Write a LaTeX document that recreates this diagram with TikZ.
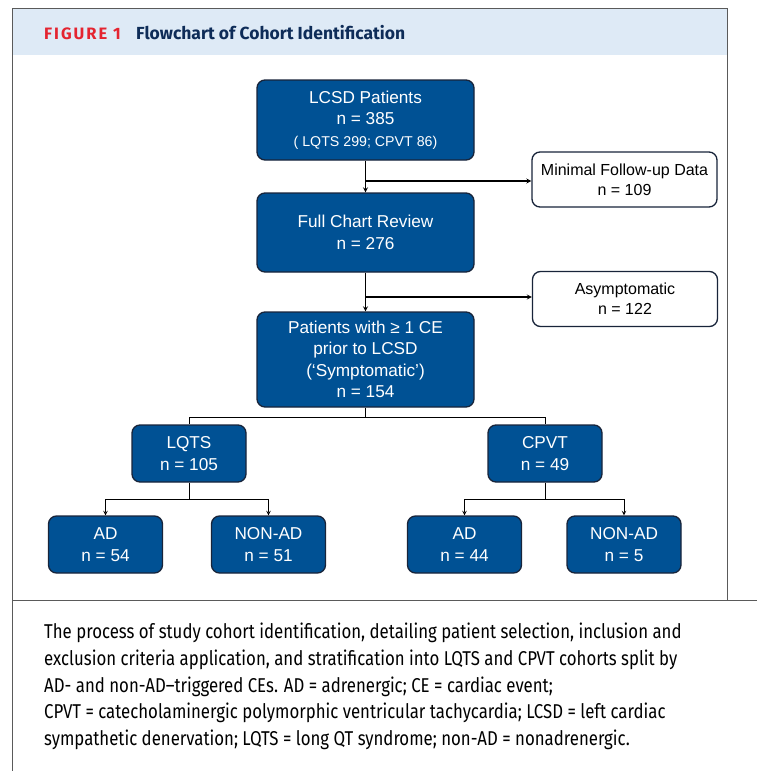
\documentclass[tikz,border=0pt]{standalone}
\usepackage{fontspec}
\setmainfont{Liberation Sans}
\newfontfamily\headfont{Fira Sans}
\newfontfamily\capfont[FakeStretch=0.84]{Fira Sans}
\usepackage{xcolor}
\usepackage{tikz}
\usetikzlibrary{positioning}

\definecolor{boxblue}{RGB}{0,81,148}
\definecolor{boxedge}{RGB}{24,36,58}
\definecolor{headbg}{RGB}{222,234,246}
\definecolor{figred}{RGB}{228,36,48}
\definecolor{titlenavy}{RGB}{14,44,88}
\definecolor{framegrey}{RGB}{90,90,90}

\begin{document}
\begin{tikzpicture}[>=stealth, x=1pt, y=-1pt, on grid,
    bluebox/.style={draw=boxedge, line width=1.3pt, fill=boxblue, rounded corners=8pt,
      text=white, align=center, font=\fontsize{17.2}{21.5}\selectfont,
      minimum width=217pt, inner sep=0pt},
    smallbox/.style={bluebox, minimum width=114pt, minimum height=57pt},
    greybox/.style={draw=boxedge, line width=1.3pt, fill=white, rounded corners=8pt,
      text=black, align=center, font=\fontsize{16}{20}\selectfont,
      minimum width=185pt, minimum height=55pt, inner sep=0pt},
    capline/.style={anchor=base west, inner sep=0pt, font=\capfont\fontsize{20}{24}\selectfont}]
  \useasboundingbox (0,0) rectangle (757,771);

  % frame and heading
  \fill[headbg] (12,8) rectangle (727,55);
  \draw[framegrey, line width=1pt] (12,771) -- (12,8) -- (727,8) -- (727,600);
  \draw[framegrey, line width=1pt] (12,600) -- (757,600);
  \node[anchor=base west, inner sep=0pt, text=figred,
    font=\headfont\addfontfeatures{LetterSpace=12}\bfseries\fontsize{16.5}{18}\selectfont]
    (fignum) at (44,39) {FIGURE 1};
  \node[anchor=base west, inner sep=0pt, text=titlenavy,
    font=\headfont\bfseries\fontsize{17.5}{20}\selectfont]
    (figtitle) at (136,39) {Flowchart of Cohort Identification};

  % main column
  \node[bluebox, minimum height=80pt] (lcsd) at (365.5,120)
    {LCSD Patients\\n = 385\\{\fontsize{14.2}{20}\selectfont( LQTS 299; CPVT 86)}};
  \node[bluebox, minimum height=79pt, below=112.5pt of lcsd] (chart)
    {Full Chart Review\\n = 276};
  \node[bluebox, minimum height=95pt, below=127pt of chart] (sympt)
    {Patients with ≥ 1 CE\\prior to LCSD\\(`Symptomatic')\\n = 154};

  % excluded
  \node[greybox] (minfu) at (624.5,179.5) {Minimal Follow-up Data\\n = 109};
  \node[greybox] (asympt) at (625,299) {Asymptomatic\\n = 122};

  % cohorts
  \node[smallbox] (lqts) at (189,453.5) {LQTS\\n = 105};
  \node[smallbox] (cpvt) at (545,453.5) {CPVT\\n = 49};
  \node[smallbox, below left=91pt and 83.5pt of lqts] (lqtsad) {AD\\n = 54};
  \node[smallbox, below right=91pt and 79.5pt of lqts] (lqtsnon) {NON-AD\\n = 51};
  \node[smallbox, below left=91pt and 80.5pt of cpvt] (cpvtad) {AD\\n = 44};
  \node[smallbox, below right=91pt and 79pt of cpvt] (cpvtnon) {NON-AD\\n = 5};

  % connectors
  \coordinate (split1) at (lcsd.south |- 0,181);
  \coordinate (split2) at (chart.south |- 0,297);
  \draw[->, line width=1.2pt] (lcsd) -- (chart);
  \draw[->, line width=1.2pt] (split1) -- (split1 -| minfu.west);
  \draw[->, line width=1.2pt] (chart) -- (sympt);
  \draw[->, line width=1.2pt] (split2) -- (split2 -| asympt.west);

  \draw[line width=1pt] (sympt.south) -- ++(0,10) coordinate (split3);
  \draw[line width=1pt] (split3) -| (lqts.north);
  \draw[line width=1pt] (split3) -| (cpvt.north);

  \draw[line width=1pt] (lqts.south) -- ++(0,16.5) coordinate (split4);
  \draw[->, line width=1pt] (split4) -| (lqtsad.north);
  \draw[->, line width=1pt] (split4) -| (lqtsnon.north);
  \draw[line width=1pt] (cpvt.south) -- ++(0,16.5) coordinate (split5);
  \draw[->, line width=1pt] (split5) -| (cpvtad.north);
  \draw[->, line width=1pt] (split5) -| (cpvtnon.north);

  % caption
  \node[capline] (cap1) at (44,638) {The process of study cohort identification, detailing patient selection, inclusion and};
  \node[capline] (cap2) at (44,665) {exclusion criteria application, and stratification into LQTS and CPVT cohorts split by};
  \node[capline] (cap3) at (44,692) {AD- and non-AD–triggered CEs. AD = adrenergic; CE = cardiac event;};
  \node[capline] (cap4) at (44,718.5) {CPVT = catecholaminergic polymorphic ventricular tachycardia; LCSD = left cardiac};
  \node[capline] (cap5) at (44,745) {sympathetic denervation; LQTS = long QT syndrome; non-AD = nonadrenergic.};
\end{tikzpicture}
\end{document}
